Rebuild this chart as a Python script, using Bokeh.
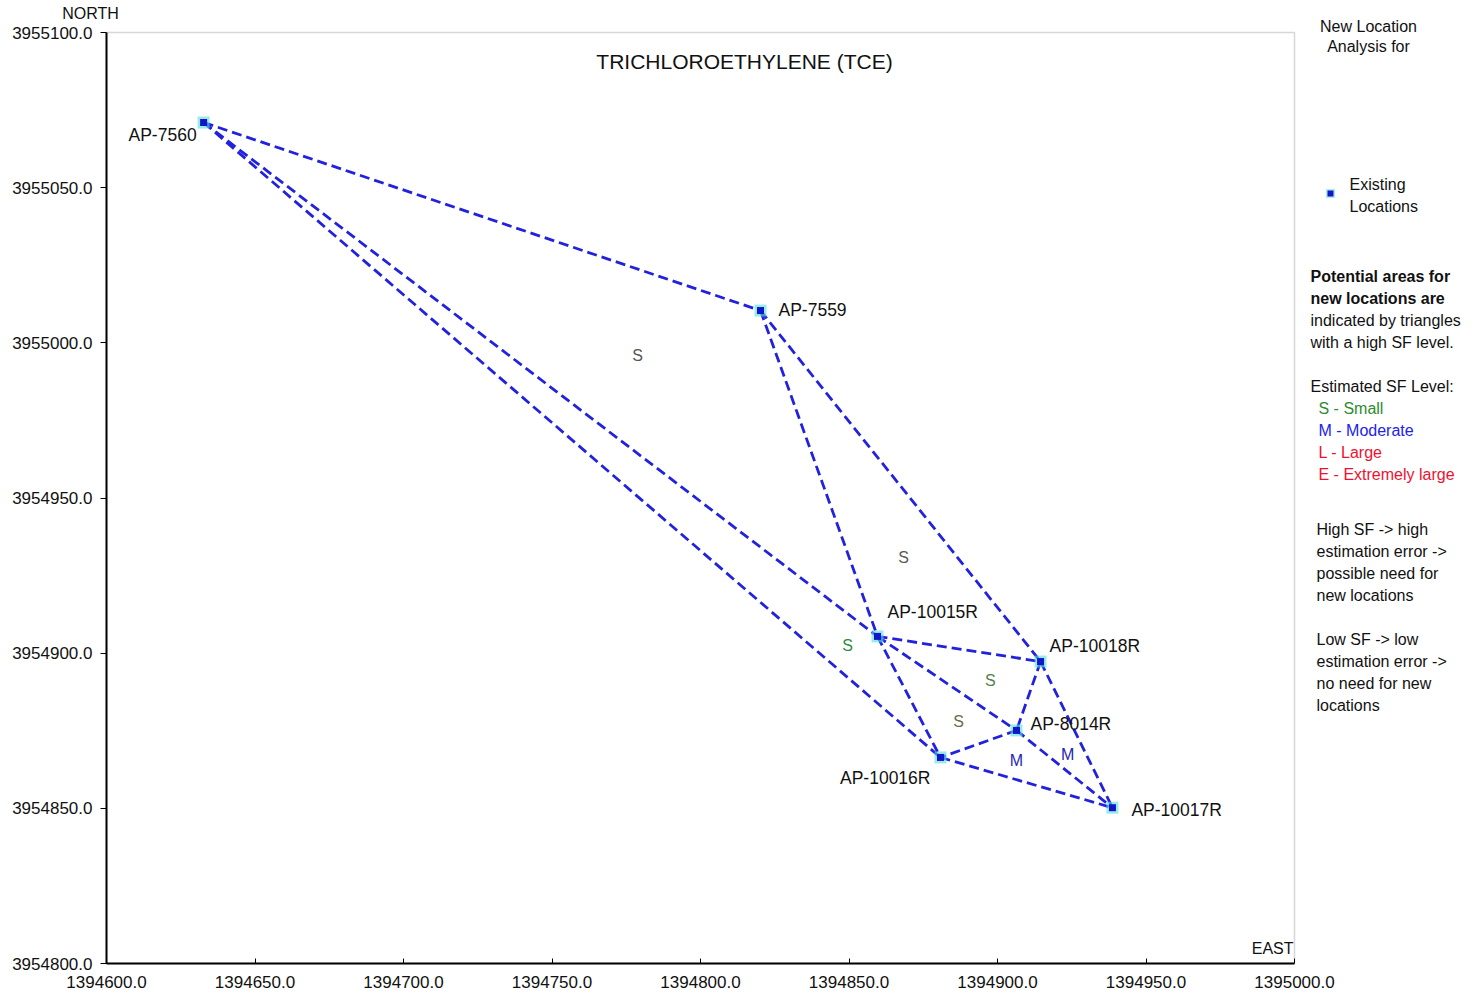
from bokeh.plotting import figure
from bokeh.models import ColumnDataSource, Range1d, FixedTicker, NumeralTickFormatter, BoxAnnotation
from bokeh.core.properties import value
from bokeh.embed import file_html
from bokeh.resources import INLINE

# ---------------- data ----------------
well_names = ["AP-7560", "AP-7559", "AP-10015R", "AP-10018R", "AP-8014R", "AP-10016R", "AP-10017R"]
well_east = [1394632.7, 1394820.2, 1394859.6, 1394914.5, 1394906.4, 1394880.8, 1394938.7]
well_north = [3955071.0, 3955010.4, 3954905.4, 3954897.3, 3954875.1, 3954866.4, 3954850.2]

edge_from = ["AP-7560", "AP-7560", "AP-7560", "AP-7559", "AP-7559", "AP-10015R", "AP-10015R",
             "AP-10015R", "AP-10018R", "AP-10018R", "AP-8014R", "AP-8014R", "AP-10016R"]
edge_to = ["AP-7559", "AP-10015R", "AP-10016R", "AP-10015R", "AP-10018R", "AP-10018R", "AP-8014R",
           "AP-10016R", "AP-8014R", "AP-10017R", "AP-10016R", "AP-10017R", "AP-10017R"]

sf_levels = ["S", "S", "S", "S", "S", "M", "M"]
sf_east = [1394778.8, 1394868.4, 1394849.5, 1394897.6, 1394886.9, 1394906.4, 1394923.6]
sf_north = [3954995.9, 3954930.8, 3954902.5, 3954891.2, 3954878.0, 3954865.4, 3954867.3]

x_ticks = [1394600, 1394650, 1394700, 1394750, 1394800, 1394850, 1394900, 1394950, 1395000]
y_ticks = [3954800, 3954850, 3954900, 3954950, 3955000, 3955050, 3955100]

# ---------------- layout / styles ----------------
FONT = "Liberation Sans"
LINE_BLUE = "#2222dd"
sf_colors = ["#555555", "#5a5a50", "#2e8b3a", "#4f7f4f", "#6b6b48", "#2626b4", "#2626b4"]
label_dx = [-7, 18, 10, 9, 14, -10, 19]
label_dy = [13, -1, -24, -16, -6, 21, 2]
label_align = ["right", "left", "left", "left", "left", "right", "left"]

X0, X1 = x_ticks[0], x_ticks[-1]
Y0, Y1 = y_ticks[0], y_ticks[-1]
# pixel box of the data area on the page
BOX_L, BOX_R, BOX_T, BOX_B = 106, 1294, 32, 963
SX = (BOX_R - BOX_L) / (X1 - X0)
SY = (BOX_B - BOX_T) / (Y1 - Y0)
W, H = 1476, 993


def px(page_x):
    return X0 + (page_x - BOX_L) / SX


def py(page_y):
    return Y1 - (page_y - BOX_T) / SY


p = figure(width=W, height=H, output_backend="svg", toolbar_location=None,
           x_range=Range1d(px(0), px(W)), y_range=Range1d(py(H), py(0)),
           min_border_left=0, min_border_right=0, min_border_top=0, min_border_bottom=0)
p.xgrid.visible = False
p.ygrid.visible = False
p.outline_line_color = None
p.background_fill_color = "white"
p.border_fill_color = "white"

for ax, ticks, tin, tout, b in ((p.xaxis[0], x_ticks, 5, 0, (X0, X1)),
                                (p.yaxis[0], y_ticks, 0, 6, (Y0, Y1))):
    ax.ticker = FixedTicker(ticks=ticks)
    ax.bounds = b
    ax.formatter = NumeralTickFormatter(format="0.0")
    ax.minor_tick_line_color = None
    ax.major_tick_in = tin
    ax.major_tick_out = tout
    ax.major_tick_line_color = "black"
    ax.major_tick_line_width = 1
    ax.axis_line_color = "black"
    ax.axis_line_width = 2
    ax.major_label_text_font = FONT
    ax.major_label_text_font_size = "17px"
    ax.major_label_text_color = "#111111"
p.yaxis.fixed_location = X0
p.xaxis.fixed_location = Y0
p.xaxis.major_label_standoff = 12
p.yaxis.major_label_standoff = 8

# plot box (top and right edges in grey)
p.add_layout(BoxAnnotation(left=X0, right=X1, bottom=Y0, top=Y1, fill_alpha=0,
                           line_color="#7a7a7a", line_width=1.5, level="underlay"))

# edges
idx = {n: i for i, n in enumerate(well_names)}
seg = ColumnDataSource(dict(
    x0=[well_east[idx[a]] for a in edge_from], y0=[well_north[idx[a]] for a in edge_from],
    x1=[well_east[idx[b]] for b in edge_to], y1=[well_north[idx[b]] for b in edge_to]))
p.segment(x0="x0", y0="y0", x1="x1", y1="y1", source=seg, line_color=LINE_BLUE,
          line_width=2.8, line_dash="10 5")

# wells
wells = ColumnDataSource(dict(x=well_east, y=well_north, name=well_names,
                              dx=label_dx, dy=label_dy, align=label_align))
p.scatter(x="x", y="y", source=wells, marker="square", size=12, fill_color="#55e0e0",
          fill_alpha=0.6, line_color=None)
p.scatter(x="x", y="y", source=wells, marker="square", size=7, fill_color="#1414c8",
          line_color=None)
p.text(x="x", y="y", text="name", source=wells, x_offset="dx", y_offset="dy",
       text_align="align", text_baseline="middle", text_font=value(FONT),
       text_font_size="17.5px", text_color="#111111")

# SF level labels
sf = ColumnDataSource(dict(x=sf_east, y=sf_north, t=sf_levels, c=sf_colors))
p.text(x="x", y="y", text="t", source=sf, text_color="c", text_align="center",
       text_baseline="middle", text_font=value(FONT), text_font_size="16px")


def lab(text, x, y, align="left", color="#111111", size="16px", style="normal"):
    p.text(x=[px(x)], y=[py(y)], text=[text], text_align=align, text_baseline="middle",
           text_font=value(FONT), text_font_size=size, text_color=color,
           text_font_style=style)


lab("TRICHLOROETHYLENE (TCE)", 744, 61, align="center", size="21px")
lab("NORTH", 90, 13, align="center")
lab("EAST", 1293, 948, align="right")

lab("New Location", 1368, 26, align="center")
lab("Analysis for", 1368, 46, align="center")
p.scatter(x=[px(1330)], y=[py(193)], marker="square", size=9, fill_color="#55e0e0",
          fill_alpha=0.5, line_color=None)
p.scatter(x=[px(1330)], y=[py(193)], marker="square", size=6, fill_color="#1414c8",
          line_color=None)
lab("Existing", 1349, 184)
lab("Locations", 1349, 206)
lab("Potential areas for", 1310, 276, style="bold")
lab("new locations are", 1310, 298, style="bold")
lab("indicated by triangles", 1310, 320)
lab("with a high SF level.", 1310, 342)
lab("Estimated SF Level:", 1310, 386)
lab("S - Small", 1318, 408, color="#2e8b2e")
lab("M - Moderate", 1318, 430, color="#2222ee")
lab("L - Large", 1318, 452, color="#ee1133")
lab("E - Extremely large", 1318, 474, color="#ee1133")
lab("High SF -> high", 1316, 529)
lab("estimation error ->", 1316, 551)
lab("possible need for", 1316, 573)
lab("new locations", 1316, 595)
lab("Low SF -> low", 1316, 639)
lab("estimation error ->", 1316, 661)
lab("no need for new", 1316, 683)
lab("locations", 1316, 705)

open("out.html", "w").write(file_html(p, INLINE))
